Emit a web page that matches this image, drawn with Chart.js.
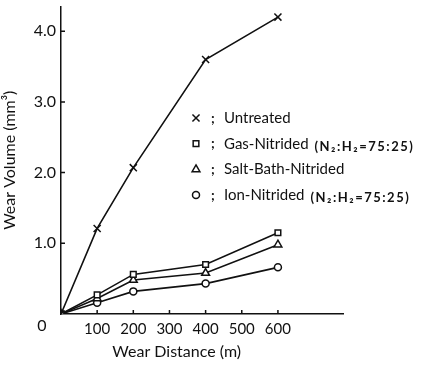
<!DOCTYPE html>
<html>
<head>
<meta charset="utf-8">
<script src="https://cdn.jsdelivr.net/npm/chart.js@4.4.1/dist/chart.umd.min.js"></script>
<style>
    html, body { margin: 0; padding: 0; background: #fff; }
    #wrap { width: 428px; height: 366px; }
</style>
</head>
<body>
<div id="wrap"><canvas id="wearChart"></canvas></div>
<script>
/* =========================
   DATOS
========================= */
const distances = [0, 100, 200, 400, 600];
const untreated = [0, 1.21, 2.07, 3.6, 4.2];
const gasNitrided = [0, 0.27, 0.56, 0.7, 1.15];
const saltBath = [0, 0.22, 0.48, 0.58, 0.98];
const ionNitrided = [0, 0.16, 0.32, 0.43, 0.66];

const seriesNames = ["Untreated", "Gas-Nitrided", "Salt-Bath-Nitrided", "Ion-Nitrided"];
const seriesNotes = ["", "(N\u2082:H\u2082=75:25)", "", "(N\u2082:H\u2082=75:25)"];
const xTickValues = [100, 200, 300, 400, 500, 600];
const yTickValues = [1, 2, 3, 4];

const FONT = "Lato";
Chart.defaults.font.family = FONT;
Chart.defaults.color = "#111";

function series(values, style, radius) {
    return {
        data: distances.map((d, i) => ({ x: d, y: values[i] })),
        borderColor: "#111",
        borderWidth: 1.6,
        backgroundColor: "#fff",
        pointStyle: style,
        pointRadius: radius,
        pointBorderWidth: 1.5,
        pointBorderColor: "#111",
        pointBackgroundColor: "#fff",
        tension: 0
    };
}

/* =========================
   LEYENDA, TICKS, TITULO X
========================= */
const extras = {
    id: "extras",
    afterDraw(chart) {
        const ctx = chart.ctx;
        const xs = chart.scales.x;
        const ys = chart.scales.y;
        ctx.save();
        ctx.strokeStyle = "#111";
        ctx.lineWidth = 1.5;
        // marcas hacia adentro
        ctx.beginPath();
        yTickValues.forEach(v => {
            const py = ys.getPixelForValue(v);
            ctx.moveTo(xs.left, py);
            ctx.lineTo(xs.left + 4, py);
        });
        xTickValues.forEach(v => {
            const px = xs.getPixelForValue(v);
            ctx.moveTo(px, ys.bottom);
            ctx.lineTo(px, ys.bottom - 4);
        });
        ctx.stroke();

        ctx.fillStyle = "#111";
        ctx.font = "16px " + FONT;
        ctx.textAlign = "center";
        ctx.textBaseline = "middle";
        ctx.fillText("0", xs.left - 19, ys.bottom + 12);

        ctx.font = "16px " + FONT;
        ctx.fillText("Wear Distance (m)", xs.getPixelForValue(320), ys.bottom + 38);

        // leyenda
        const lx = 196, ly0 = 118, step = 25.7;
        chart.data.datasets.forEach((ds, i) => {
            const y = ly0 + i * step;
            ctx.fillStyle = "#fff";
            ctx.strokeStyle = "#111";
            ctx.lineWidth = 1.5;
            Chart.helpers.drawPoint(ctx, {
                pointStyle: ds.pointStyle,
                radius: ds.pointRadius,
                borderWidth: 1.5,
                rotation: 0
            }, lx, y);
            ctx.fillStyle = "#111";
            ctx.textAlign = "left";
            ctx.font = "bold 14px " + FONT;
            ctx.fillText(";", lx + 15, y);
            ctx.font = "15px " + FONT;
            ctx.fillText(seriesNames[i], lx + 28, y);
            if (seriesNotes[i]) {
                const w = ctx.measureText(seriesNames[i]).width;
                ctx.font = "bold 13px " + FONT;
                ctx.letterSpacing = "1.5px";
                ctx.fillText(seriesNotes[i], lx + 28 + w + 6, y + 3);
                ctx.letterSpacing = "0px";
            }
        });
        ctx.restore();
    }
};

/* =========================
   GRAFICO
========================= */
new Chart(document.getElementById("wearChart"), {
    type: "line",
    data: {
        datasets: [
            series(untreated, "crossRot", 5),
            series(gasNitrided, "rect", 4),
            series(saltBath, "triangle", 4.5),
            series(ionNitrided, "circle", 3.5)
        ]
    },
    options: {
        responsive: true,
        maintainAspectRatio: false,
        animation: false,
        layout: { padding: { top: 4, right: 85, left: 0, bottom: 0 } },
        plugins: {
            legend: { display: false },
            tooltip: { enabled: false }
        },
        scales: {
            x: {
                type: "linear",
                min: 0,
                max: 780,
                afterBuildTicks: s => { s.ticks = xTickValues.map(v => ({ value: v })); },
                afterFit: s => { s.height = 52; s.paddingLeft = 0; s.paddingRight = 0; },
                grid: { drawOnChartArea: false, drawTicks: false },
                border: { color: "#111", width: 1.5 },
                ticks: { padding: 6, maxRotation: 0, font: { size: 15 }, color: "#111" }
            },
            y: {
                min: 0,
                max: 4.35,
                afterBuildTicks: s => { s.ticks = yTickValues.map(v => ({ value: v })); },
                afterFit: s => { s.width = 61; s.paddingTop = 0; s.paddingBottom = 0; },
                grid: { drawOnChartArea: false, drawTicks: false },
                border: { color: "#111", width: 1.5 },
                ticks: {
                    padding: 5,
                    font: { size: 16 },
                    color: "#111",
                    callback: v => v.toFixed(1)
                },
                title: {
                    display: true,
                    text: "Wear Volume (mm\u00b3)",
                    font: { size: 16 },
                    color: "#111",
                    padding: { top: 0, bottom: 2 }
                }
            }
        }
    },
    plugins: [extras]
});
</script>
</body>
</html>
